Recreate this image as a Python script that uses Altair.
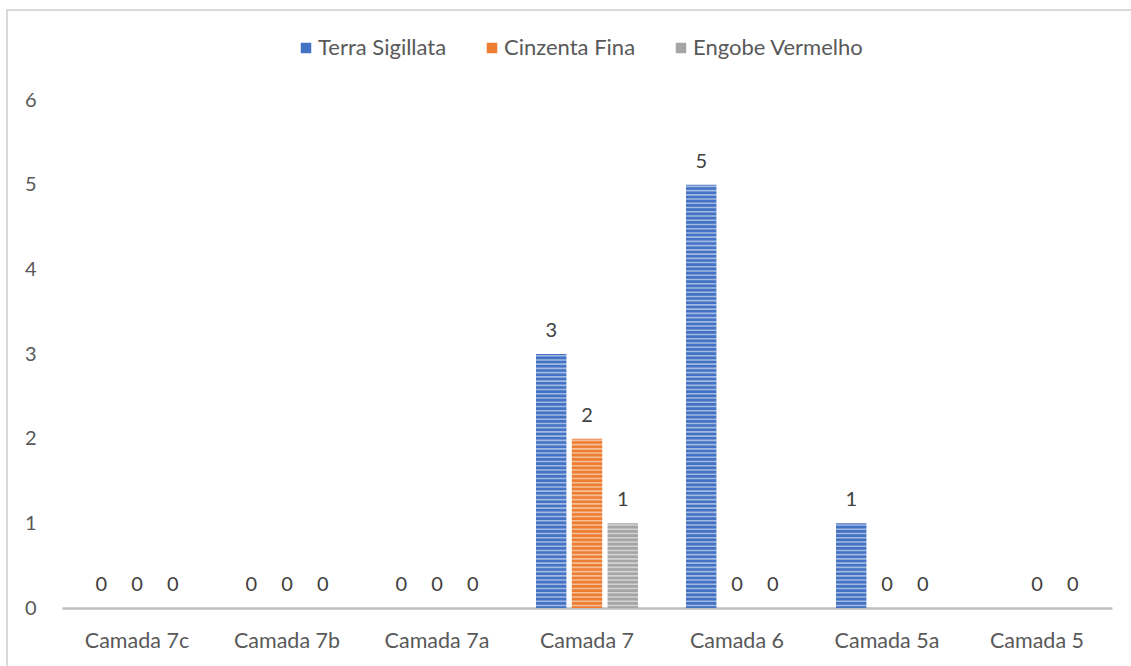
import altair as alt
import pandas as pd

categories = ["Camada 7c", "Camada 7b", "Camada 7a", "Camada 7", "Camada 6", "Camada 5a", "Camada 5"]
series = ["Terra Sigillata", "Cinzenta Fina", "Engobe Vermelho"]
terra_sigillata = [0, 0, 0, 3, 5, 1, None]
cinzenta_fina = [0, 0, 0, 2, 0, 0, 0]
engobe_vermelho = [0, 0, 0, 1, 0, 0, 0]
colors = ["#4472C4", "#ED7D31", "#A5A5A5"]
y_ticks = [0, 1, 2, 3, 4, 5, 6]

rows = []
for s, vals in zip(series, [terra_sigillata, cinzenta_fina, engobe_vermelho]):
    for c, v in zip(categories, vals):
        if v is not None:
            rows.append({"Camada": c, "Tipo": s, "Valor": v})
df = pd.DataFrame(rows)

FONT = "Lato"
W, H = 1050, 508

x = alt.X("Camada:N", sort=categories,
          scale=alt.Scale(paddingInner=0.32, paddingOuter=0.16),
          axis=alt.Axis(title=None, labelAngle=0, ticks=False, tickSize=0,
                        domainColor="#BFBFBF", domainWidth=2.5,
                        labelFont=FONT, labelFontSize=21.5, labelColor="#595959",
                        labelPadding=22))
xo = alt.XOffset("Tipo:N", sort=series,
                 scale=alt.Scale(domain=series, paddingInner=0.15, paddingOuter=0))
y = alt.Y("Valor:Q", scale=alt.Scale(domain=[0, 6], nice=False),
          axis=alt.Axis(title=None, values=y_ticks, grid=False, domain=False, ticks=False,
                        tickSize=0, labelPadding=26, labelFont=FONT, labelFontSize=20,
                        labelColor="#595959", format="d"))
color = alt.Color("Tipo:N", sort=series,
                  scale=alt.Scale(domain=series, range=colors),
                  legend=alt.Legend(title=None, orient="none", direction="horizontal",
                                    legendX=233, legendY=-63, symbolType="square",
                                    symbolSize=110, symbolStrokeWidth=0,
                                    labelFont=FONT, labelFontSize=22, labelColor="#595959",
                                    labelLimit=400, labelOffset=1, columnPadding=34, padding=0))

base = alt.Chart(df)
bars = base.mark_bar().encode(x=x, xOffset=xo, y=y, color=color)

stripes = alt.Chart(alt.sequence(0.03, 6.0, 0.05, as_="s")).mark_rule(
    color="white", opacity=0.5, strokeWidth=1.6
).encode(y=alt.Y("s:Q"), x=alt.value(0), x2=alt.value(W))

labels = base.mark_text(font=FONT, fontSize=20, color="#404040", baseline="middle", dy=-23).encode(
    x=x, xOffset=xo, y=y, text=alt.Text("Valor:Q", format="d"))

border = alt.Chart(df).mark_rect(fill=None, stroke="#D9D9D9", strokeWidth=2).encode(
    x=alt.value(-55), x2=alt.value(1200), y=alt.value(-90), y2=alt.value(700))

chart = alt.layer(border, bars, stripes, labels).properties(
    width=W, height=H,
    autosize=alt.AutoSizeParams(type="none"),
    padding={"left": 62, "top": 100, "right": 19, "bottom": 58},
).configure(background="white").configure_view(strokeWidth=0, stroke="transparent")

chart.save("out.html", embed_options={"renderer": "svg", "actions": False})
